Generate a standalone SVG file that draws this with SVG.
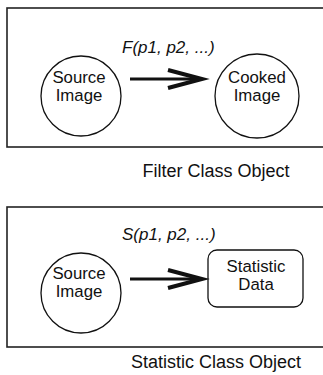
<svg xmlns="http://www.w3.org/2000/svg" width="323" height="375" viewBox="0 0 323 375">
<style>
.frame{fill:none;stroke:#222;stroke-width:1.6}
.node{fill:#fff;stroke:#111;stroke-width:1.3}
.t{font-family:"Liberation Sans",Arial,sans-serif;font-size:16.8px;fill:#111;text-anchor:middle}
.cap{font-family:"Liberation Sans",Arial,sans-serif;font-size:18px;fill:#111;text-anchor:middle}
.lbl{font-family:"Liberation Sans",Arial,sans-serif;font-size:17px;font-style:italic;fill:#111}
.shaft{stroke:#111;stroke-width:3.2;fill:none}
.head{stroke:#111;stroke-width:4;fill:none;stroke-linejoin:miter}
</style>
<g id="filter-object">
<rect class="frame" x="7" y="8" width="330" height="139"/>
<text class="cap" x="216" y="177">Filter Class Object</text>
</g>
<g id="source-image-1">
<circle class="node" cx="81" cy="96" r="40"/>
<text class="t" x="79" y="83">Source</text>
<text class="t" x="79" y="101">Image</text>
</g>
<g id="cooked-image">
<circle class="node" cx="257" cy="96" r="42"/>
<text class="t" x="257" y="83">Cooked</text>
<text class="t" x="257" y="101">Image</text>
</g>
<g id="statistic-object">
<rect class="frame" x="7" y="207" width="330" height="140"/>
<text class="cap" x="216" y="368">Statistic Class Object</text>
</g>
<g id="source-image-2">
<circle class="node" cx="81" cy="293" r="40"/>
<text class="t" x="79" y="279">Source</text>
<text class="t" x="79" y="297">Image</text>
</g>
<g id="statistic-data">
<rect class="node" x="208" y="250" width="95" height="57" rx="9"/>
<text class="t" x="256" y="272">Statistic</text>
<text class="t" x="256" y="290">Data</text>
</g>
<g id="connectors">
<text class="lbl" x="122" y="53">F(p1, p2, ...)</text>
<line class="shaft" x1="130" y1="79" x2="201" y2="79"/>
<polyline class="head" points="168,70 202,79 168,88"/>
<text class="lbl" x="122" y="240">S(p1, p2, ...)</text>
<line class="shaft" x1="130" y1="279" x2="201" y2="279"/>
<polyline class="head" points="168,270 202,279 168,288"/>
</g>
</svg>
